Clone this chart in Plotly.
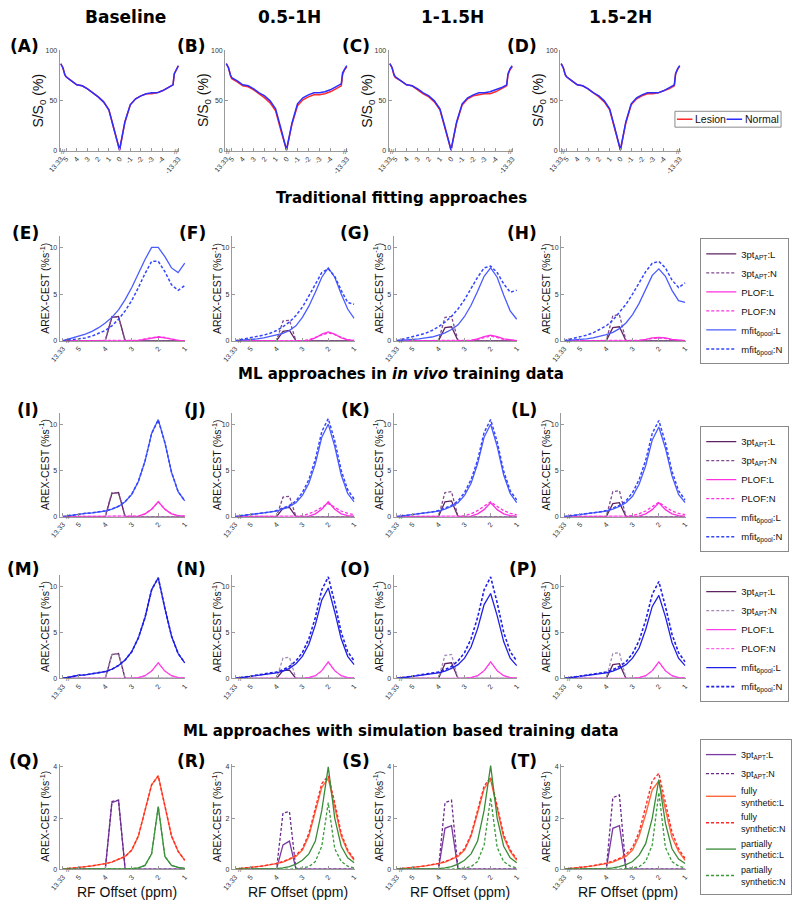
import plotly.graph_objects as go

W, H = 792, 905

# ---------------- text ----------------
COL_TITLES = ["Baseline", "0.5-1H", "1-1.5H", "1.5-2H"]
ROW_TITLES = ["Traditional fitting approaches",
              "ML approaches in <i>in vivo</i> training data",
              "ML approaches with simulation based training data"]
PANEL_LABELS = ["(A)", "(B)", "(C)", "(D)", "(E)", "(F)", "(G)", "(H)",
                "(I)", "(J)", "(K)", "(L)", "(M)", "(N)", "(O)", "(P)",
                "(Q)", "(R)", "(S)", "(T)"]
TOP_LEGEND_NAMES = ["Lesion", "Normal"]

# ---------------- Z-spectra (row 1) ----------------
Z_PPM = [13.33, 10, 7, 5, 4.5, 4, 3.5, 3, 2.5, 2, 1.5, 1, 0.5, 0,
         -0.5, -1, -1.5, -2, -2.5, -3, -3.5, -4, -4.5, -5, -7, -10, -13.33]
Z_TICKVALS = [13.33, 5, 4, 3, 2, 1, 0, -1, -2, -3, -4, -13.33]
Z_TICKTEXT = ["13.33", "5", "4", "3", "2", "1", "0", "-1", "-2", "-3", "-4", "-13.33"]
Y_TICKS_Z = [0, 50, 100]

ZA_LESION = [87, 83, 76, 74, 70, 66, 65, 62, 58, 54, 49, 41, 21, 1, 29, 46, 52, 55, 57, 57, 58, 60, 63, 66, 77, 81, 85]
ZA_NORMAL = [87, 83, 76, 74, 70, 66, 65, 62, 58, 54, 49, 41, 21, 1, 29, 46, 52, 55, 57, 58, 58, 60, 63, 66, 77, 81, 85]
ZB_LESION = [87, 83, 75, 72, 69, 65, 64, 61, 57, 53, 48, 40, 20, 1, 27, 45, 51, 54, 56, 56, 57, 59, 62, 65, 76, 81, 84]
ZB_NORMAL = [87, 83, 76, 73, 70, 66, 65, 62, 58, 55, 50, 42, 22, 1, 28, 47, 53, 56, 58, 58, 59, 61, 64, 67, 78, 82, 85]
ZC_LESION = [87, 83, 75, 73, 70, 66, 65, 61, 57, 54, 49, 41, 21, 1, 28, 46, 52, 55, 56, 57, 57, 59, 62, 65, 76, 81, 84]
ZC_NORMAL = [87, 83, 76, 74, 70, 66, 65, 62, 58, 55, 50, 42, 22, 1, 29, 47, 53, 56, 58, 58, 59, 61, 63, 66, 77, 82, 85]
ZD_LESION = [87, 83, 76, 74, 70, 66, 65, 62, 58, 54, 49, 41, 21, 1, 28, 46, 52, 55, 57, 57, 58, 60, 62, 65, 77, 81, 85]
ZD_NORMAL = [87, 83, 76, 74, 70, 66, 65, 62, 58, 55, 50, 42, 22, 1, 29, 47, 53, 56, 58, 58, 58, 60, 63, 66, 77, 82, 85]

# ---------------- AREX spectra (rows 2-5) ----------------
X_PPM = [13.33, 5.0, 4.75, 4.5, 4.25, 4.0, 3.75, 3.5, 3.25, 3.0, 2.75, 2.5, 2.25, 2.0, 1.75, 1.5, 1.25, 1.0]
X_TICKVALS = [13.33, 5, 4, 3, 2, 1]
X_TICKTEXT = ["13.33", "5", "4", "3", "2", "1"]
Y_TICKS_AREX = [0, 5, 10]
Y_TICKS_SIM = [0, 2, 4]

# Traditional fitting (E-H)
E_APT_L = [0, 0, 0, 0, 0, 0, 2.5, 2.6, 0, 0, 0, 0, 0, 0, 0, 0, 0, 0]
E_APT_N = [0, 0, 0, 0, 0, 0, 2.6, 2.5, 0, 0, 0, 0, 0, 0, 0, 0, 0, 0]
E_PLOF_L = [0, 0, 0, 0, 0, 0, 0, 0, 0, 0, 0.05, 0.15, 0.3, 0.4, 0.3, 0.15, 0.05, 0]
E_PLOF_N = [0, 0, 0, 0, 0, 0, 0, 0, 0, 0, 0.05, 0.2, 0.35, 0.45, 0.35, 0.2, 0.05, 0]
E_MFIT_L = [0, 0.5, 0.7, 1.0, 1.4, 1.9, 2.5, 3.3, 4.4, 5.7, 7.2, 8.7, 10.0, 10.0, 9.0, 7.8, 7.3, 8.3]
E_MFIT_N = [0, 0.2, 0.3, 0.5, 0.8, 1.1, 1.6, 2.3, 3.2, 4.3, 5.7, 7.2, 8.5, 8.5, 7.4, 6.0, 5.4, 5.9]

F_APT_L = [0, 0, 0, 0, 0, 0, 1.0, 1.1, 0, 0, 0, 0, 0, 0, 0, 0, 0, 0]
F_APT_N = [0, 0, 0, 0, 0, 0, 2.1, 2.2, 0, 0, 0, 0, 0, 0, 0, 0, 0, 0]
F_PLOF_L = [0, 0, 0, 0, 0, 0, 0, 0, 0, 0, 0.05, 0.3, 0.7, 0.95, 0.7, 0.3, 0.1, 0.02]
F_PLOF_N = [0, 0, 0, 0, 0, 0, 0, 0, 0, 0.02, 0.1, 0.35, 0.65, 0.85, 0.65, 0.35, 0.12, 0.05]
F_MFIT_L = [0, 0.1, 0.2, 0.3, 0.45, 0.6, 0.8, 1.1, 1.6, 2.5, 3.7, 5.2, 6.8, 7.8, 6.8, 5.0, 3.4, 2.4]
F_MFIT_N = [0, 0.3, 0.45, 0.6, 0.8, 1.1, 1.5, 2.0, 2.7, 3.6, 4.8, 6.1, 7.3, 7.7, 6.9, 5.4, 4.1, 3.9]

G_APT_L = [0, 0, 0, 0, 0, 0, 1.4, 1.5, 0, 0, 0, 0, 0, 0, 0, 0, 0, 0]
G_APT_N = [0, 0, 0, 0, 0, 0, 2.5, 2.6, 0, 0, 0, 0, 0, 0, 0, 0, 0, 0]
G_PLOF_L = [0, 0, 0, 0, 0, 0, 0, 0, 0, 0, 0.05, 0.2, 0.45, 0.6, 0.45, 0.2, 0.07, 0.02]
G_PLOF_N = [0, 0, 0, 0, 0, 0, 0, 0, 0, 0, 0.05, 0.15, 0.35, 0.5, 0.35, 0.15, 0.05, 0.02]
G_MFIT_L = [0, 0.1, 0.2, 0.3, 0.4, 0.6, 0.85, 1.2, 1.7, 2.6, 3.8, 5.3, 6.9, 7.8, 6.8, 4.9, 3.2, 2.3]
G_MFIT_N = [0, 0.4, 0.6, 0.8, 1.1, 1.5, 2.0, 2.6, 3.4, 4.4, 5.6, 6.8, 7.8, 8.0, 7.3, 6.1, 5.2, 5.4]

H_APT_L = [0, 0, 0, 0, 0, 0, 1.4, 1.5, 0, 0, 0, 0, 0, 0, 0, 0, 0, 0]
H_APT_N = [0, 0, 0, 0, 0, 0, 2.7, 2.8, 0, 0, 0, 0, 0, 0, 0, 0, 0, 0]
H_PLOF_L = [0, 0, 0, 0, 0, 0, 0, 0, 0, 0, 0.05, 0.15, 0.3, 0.35, 0.3, 0.15, 0.05, 0]
H_PLOF_N = [0, 0, 0, 0, 0, 0, 0, 0, 0, 0, 0.05, 0.1, 0.25, 0.3, 0.25, 0.1, 0.05, 0]
H_MFIT_L = [0, 0.1, 0.2, 0.3, 0.45, 0.65, 0.9, 1.3, 1.9, 2.8, 4.0, 5.5, 7.0, 7.7, 6.9, 5.4, 4.3, 4.1]
H_MFIT_N = [0, 0.4, 0.6, 0.85, 1.2, 1.6, 2.2, 3.0, 3.9, 5.0, 6.2, 7.4, 8.3, 8.5, 7.8, 6.5, 5.7, 6.2]

# ML with in vivo training data (I-L)
I_APT_L = [0, 0, 0, 0, 0, 0, 2.5, 2.6, 0, 0, 0, 0, 0, 0, 0, 0, 0, 0]
I_APT_N = [0, 0, 0, 0, 0, 0, 2.6, 2.6, 0, 0, 0, 0, 0, 0, 0, 0, 0, 0]
I_PLOF_L = [0, 0, 0, 0, 0, 0, 0, 0, 0, 0.02, 0.05, 0.3, 0.8, 1.6, 0.8, 0.3, 0.1, 0.05]
I_PLOF_N = [0, 0, 0, 0, 0, 0, 0, 0, 0, 0.02, 0.05, 0.3, 0.8, 1.6, 0.8, 0.3, 0.1, 0.05]
I_MFIT_L = [0, 0.3, 0.35, 0.4, 0.5, 0.6, 0.8, 1.1, 1.6, 2.4, 3.8, 6.0, 9.0, 10.5, 8.0, 4.8, 2.7, 1.7]
I_MFIT_N = [0, 0.3, 0.35, 0.4, 0.5, 0.62, 0.82, 1.12, 1.62, 2.42, 3.82, 6.0, 9.0, 10.45, 8.0, 4.8, 2.7, 1.7]

J_APT_L = [0, 0, 0, 0, 0, 0, 0.9, 1.0, 0, 0, 0, 0, 0, 0, 0, 0, 0, 0]
J_APT_N = [0, 0, 0, 0, 0, 0, 2.1, 2.2, 0, 0, 0, 0, 0, 0, 0, 0, 0, 0]
J_PLOF_L = [0, 0, 0, 0, 0, 0, 0, 0, 0, 0.02, 0.05, 0.3, 0.8, 1.6, 0.8, 0.3, 0.1, 0.05]
J_PLOF_N = [0, 0, 0, 0, 0, 0, 0, 0, 0.03, 0.1, 0.3, 0.6, 1.0, 1.4, 1.0, 0.6, 0.35, 0.2]
J_MFIT_L = [0, 0.2, 0.3, 0.4, 0.5, 0.6, 0.8, 1.1, 1.5, 2.3, 3.6, 5.7, 8.6, 10.0, 7.6, 4.5, 2.5, 1.6]
J_MFIT_N = [0, 0.2, 0.3, 0.4, 0.5, 0.65, 0.9, 1.2, 1.7, 2.6, 4.0, 6.2, 9.2, 10.6, 8.2, 5.0, 2.9, 1.9]

K_APT_L = [0, 0, 0, 0, 0, 0, 1.6, 1.7, 0, 0, 0, 0, 0, 0, 0, 0, 0, 0]
K_APT_N = [0, 0, 0, 0, 0, 0, 2.6, 2.7, 0, 0, 0, 0, 0, 0, 0, 0, 0, 0]
K_PLOF_L = [0, 0, 0, 0, 0, 0, 0, 0, 0, 0.02, 0.05, 0.3, 0.75, 1.5, 0.75, 0.3, 0.1, 0.05]
K_PLOF_N = [0, 0, 0, 0, 0, 0, 0, 0, 0.03, 0.1, 0.3, 0.65, 1.1, 1.6, 1.1, 0.65, 0.35, 0.2]
K_MFIT_L = [0, 0.2, 0.3, 0.4, 0.5, 0.6, 0.8, 1.1, 1.5, 2.3, 3.6, 5.7, 8.6, 10.0, 7.6, 4.5, 2.5, 1.5]
K_MFIT_N = [0, 0.2, 0.3, 0.4, 0.5, 0.65, 0.9, 1.2, 1.7, 2.6, 4.0, 6.1, 9.1, 10.5, 8.1, 4.9, 2.8, 1.8]

L_APT_L = [0, 0, 0, 0, 0, 0, 1.4, 1.5, 0, 0, 0, 0, 0, 0, 0, 0, 0, 0]
L_APT_N = [0, 0, 0, 0, 0, 0, 2.7, 2.8, 0, 0, 0, 0, 0, 0, 0, 0, 0, 0]
L_PLOF_L = [0, 0, 0, 0, 0, 0, 0, 0, 0, 0.02, 0.05, 0.3, 0.75, 1.5, 0.75, 0.3, 0.1, 0.05]
L_PLOF_N = [0, 0, 0, 0, 0, 0, 0, 0, 0.03, 0.1, 0.3, 0.6, 1.05, 1.55, 1.05, 0.6, 0.35, 0.2]
L_MFIT_L = [0, 0.2, 0.3, 0.4, 0.5, 0.6, 0.8, 1.1, 1.5, 2.2, 3.5, 5.5, 8.3, 9.7, 7.4, 4.4, 2.4, 1.5]
L_MFIT_N = [0, 0.2, 0.3, 0.4, 0.5, 0.65, 0.9, 1.2, 1.7, 2.6, 4.0, 6.1, 9.0, 10.4, 8.0, 4.9, 2.8, 1.8]

# ML with in vivo training data, second model (M-P)
M_APT_L = [0, 0, 0, 0, 0, 0, 2.6, 2.7, 0, 0, 0, 0, 0, 0, 0, 0, 0, 0]
M_APT_N = [0, 0, 0, 0, 0, 0, 2.6, 2.7, 0, 0, 0, 0, 0, 0, 0, 0, 0, 0]
M_PLOF_L = [0, 0, 0, 0, 0, 0, 0, 0, 0, 0.02, 0.1, 0.3, 0.8, 1.7, 0.8, 0.3, 0.1, 0.05]
M_PLOF_N = [0, 0, 0, 0, 0, 0, 0, 0, 0, 0.02, 0.1, 0.3, 0.8, 1.7, 0.8, 0.3, 0.1, 0.05]
M_MFIT_L = [0, 0.35, 0.4, 0.5, 0.6, 0.75, 1.0, 1.4, 2.0, 2.9, 4.4, 6.6, 9.6, 10.9, 7.6, 4.6, 2.7, 1.7]
M_MFIT_N = [0, 0.35, 0.4, 0.5, 0.6, 0.75, 1.0, 1.4, 2.0, 2.9, 4.4, 6.6, 9.6, 10.9, 7.6, 4.6, 2.7, 1.7]

N_APT_L = [0, 0, 0, 0, 0, 0, 0.85, 0.9, 0, 0, 0, 0, 0, 0, 0, 0, 0, 0]
N_APT_N = [0, 0, 0, 0, 0, 0, 2.2, 2.3, 0, 0, 0, 0, 0, 0, 0, 0, 0, 0]
N_PLOF_L = [0, 0, 0, 0, 0, 0, 0, 0, 0, 0.02, 0.1, 0.3, 0.85, 1.8, 0.85, 0.3, 0.1, 0.05]
N_PLOF_N = [0, 0, 0, 0, 0, 0, 0, 0, 0, 0.02, 0.1, 0.3, 0.8, 1.75, 0.8, 0.3, 0.1, 0.05]
N_MFIT_L = [0, 0.2, 0.3, 0.4, 0.5, 0.6, 0.8, 1.1, 1.6, 2.4, 3.7, 5.8, 8.5, 9.8, 7.2, 4.3, 2.4, 1.5]
N_MFIT_N = [0, 0.25, 0.35, 0.45, 0.55, 0.7, 0.95, 1.3, 1.9, 2.8, 4.3, 6.6, 9.6, 11.0, 8.2, 5.0, 2.9, 1.9]

O_APT_L = [0, 0, 0, 0, 0, 0, 1.6, 1.7, 0, 0, 0, 0, 0, 0, 0, 0, 0, 0]
O_APT_N = [0, 0, 0, 0, 0, 0, 2.5, 2.6, 0, 0, 0, 0, 0, 0, 0, 0, 0, 0]
O_PLOF_L = [0, 0, 0, 0, 0, 0, 0, 0, 0, 0.02, 0.1, 0.3, 0.85, 1.8, 0.85, 0.3, 0.1, 0.05]
O_PLOF_N = [0, 0, 0, 0, 0, 0, 0, 0, 0, 0.02, 0.1, 0.3, 0.8, 1.75, 0.8, 0.3, 0.1, 0.05]
O_MFIT_L = [0, 0.2, 0.3, 0.4, 0.5, 0.6, 0.8, 1.1, 1.5, 2.2, 3.4, 5.4, 8.0, 9.2, 6.8, 4.0, 2.2, 1.4]
O_MFIT_N = [0, 0.25, 0.35, 0.45, 0.55, 0.7, 0.95, 1.3, 1.9, 2.8, 4.3, 6.6, 9.6, 11.0, 8.2, 5.0, 2.9, 1.9]

P_APT_L = [0, 0, 0, 0, 0, 0, 1.5, 1.6, 0, 0, 0, 0, 0, 0, 0, 0, 0, 0]
P_APT_N = [0, 0, 0, 0, 0, 0, 2.7, 2.8, 0, 0, 0, 0, 0, 0, 0, 0, 0, 0]
P_PLOF_L = [0, 0, 0, 0, 0, 0, 0, 0, 0, 0.02, 0.1, 0.3, 0.85, 1.8, 0.85, 0.3, 0.1, 0.05]
P_PLOF_N = [0, 0, 0, 0, 0, 0, 0, 0, 0, 0.02, 0.1, 0.3, 0.8, 1.75, 0.8, 0.3, 0.1, 0.05]
P_MFIT_L = [0, 0.2, 0.3, 0.4, 0.5, 0.6, 0.8, 1.1, 1.5, 2.2, 3.3, 5.3, 7.8, 9.0, 6.7, 3.9, 2.2, 1.4]
P_MFIT_N = [0, 0.25, 0.35, 0.45, 0.55, 0.7, 0.95, 1.3, 1.8, 2.7, 4.1, 6.3, 9.1, 10.5, 7.8, 4.8, 2.8, 1.8]

# ML with simulation based training data (Q-T)
Q_APT_L = [0, 0, 0, 0, 0, 0, 2.6, 2.7, 0, 0, 0, 0, 0, 0, 0, 0, 0, 0]
Q_APT_N = [0, 0, 0, 0, 0, 0, 2.65, 2.7, 0, 0, 0, 0, 0, 0, 0, 0, 0, 0]
Q_FULL_L = [0, 0.05, 0.1, 0.13, 0.17, 0.22, 0.28, 0.38, 0.5, 0.75, 1.3, 2.3, 3.3, 3.65, 2.5, 1.3, 0.7, 0.35]
Q_FULL_N = [0, 0.05, 0.1, 0.13, 0.17, 0.22, 0.28, 0.38, 0.5, 0.75, 1.3, 2.3, 3.3, 3.65, 2.5, 1.3, 0.7, 0.35]
Q_PART_L = [0, 0, 0, 0, 0, 0, 0, 0, 0, 0.02, 0.05, 0.15, 0.6, 2.45, 0.5, 0.15, 0.07, 0.03]
Q_PART_N = [0, 0, 0, 0, 0, 0, 0, 0, 0, 0.02, 0.05, 0.15, 0.6, 2.45, 0.5, 0.15, 0.07, 0.03]

R_APT_L = [0, 0, 0, 0, 0, 0, 0.95, 1.1, 0, 0, 0, 0, 0, 0, 0, 0, 0, 0]
R_APT_N = [0, 0, 0, 0, 0, 0, 2.2, 2.25, 0, 0, 0, 0, 0, 0, 0, 0, 0, 0]
R_FULL_L = [0, 0.05, 0.1, 0.13, 0.17, 0.22, 0.28, 0.38, 0.5, 0.75, 1.3, 2.25, 3.2, 3.55, 2.45, 1.3, 0.7, 0.35]
R_FULL_N = [0, 0.05, 0.1, 0.13, 0.17, 0.23, 0.3, 0.4, 0.55, 0.8, 1.4, 2.4, 3.35, 3.65, 2.6, 1.4, 0.75, 0.4]
R_PART_L = [0, 0, 0, 0, 0, 0.02, 0.05, 0.1, 0.2, 0.35, 0.6, 1.1, 2.3, 4.0, 2.0, 0.9, 0.45, 0.25]
R_PART_N = [0, 0, 0, 0, 0, 0, 0, 0, 0.03, 0.05, 0.1, 0.3, 0.9, 2.6, 0.8, 0.3, 0.12, 0.05]

S_APT_L = [0, 0, 0, 0, 0, 0, 1.6, 1.7, 0, 0, 0, 0, 0, 0, 0, 0, 0, 0]
S_APT_N = [0, 0, 0, 0, 0, 0, 2.6, 2.7, 0, 0, 0, 0, 0, 0, 0, 0, 0, 0]
S_FULL_L = [0, 0.05, 0.1, 0.13, 0.17, 0.22, 0.28, 0.38, 0.5, 0.75, 1.3, 2.2, 3.15, 3.5, 2.4, 1.25, 0.7, 0.35]
S_FULL_N = [0, 0.05, 0.1, 0.13, 0.17, 0.23, 0.3, 0.4, 0.55, 0.8, 1.35, 2.3, 3.25, 3.6, 2.5, 1.35, 0.75, 0.4]
S_PART_L = [0, 0, 0, 0, 0, 0.02, 0.05, 0.1, 0.2, 0.35, 0.6, 1.1, 2.3, 4.05, 2.0, 0.9, 0.45, 0.25]
S_PART_N = [0, 0, 0, 0, 0, 0, 0, 0, 0.03, 0.05, 0.1, 0.3, 0.95, 2.8, 0.85, 0.3, 0.12, 0.05]

T_APT_L = [0, 0, 0, 0, 0, 0, 1.6, 1.7, 0, 0, 0, 0, 0, 0, 0, 0, 0, 0]
T_APT_N = [0, 0, 0, 0, 0, 0, 2.8, 2.9, 0, 0, 0, 0, 0, 0, 0, 0, 0, 0]
T_FULL_L = [0, 0.05, 0.1, 0.13, 0.17, 0.22, 0.28, 0.38, 0.5, 0.75, 1.3, 2.15, 3.1, 3.45, 2.35, 1.25, 0.7, 0.35]
T_FULL_N = [0, 0.05, 0.1, 0.14, 0.18, 0.24, 0.32, 0.42, 0.58, 0.85, 1.45, 2.45, 3.45, 3.75, 2.65, 1.45, 0.8, 0.42]
T_PART_L = [0, 0, 0, 0, 0, 0.02, 0.05, 0.1, 0.18, 0.3, 0.55, 1.0, 2.0, 3.5, 1.8, 0.8, 0.4, 0.22]
T_PART_N = [0, 0, 0, 0, 0, 0, 0, 0, 0.03, 0.05, 0.1, 0.3, 0.95, 3.0, 0.85, 0.3, 0.12, 0.05]

# ---------------- styles ----------------
DASH = "3px,2px"
TOP_COLORS = ["#ff2d2d", "#2d2dff"]
STY_TRAD = [("3pt<sub>APT</sub>:L", "#5e2360", None, 1.3),
            ("3pt<sub>APT</sub>:N", "#7e4a8e", DASH, 1.3),
            ("PLOF:L", "#ff30e0", None, 1.3),
            ("PLOF:N", "#ff30e0", DASH, 1.3),
            ("mfit<sub>6pool</sub>:L", "#4a5cff", None, 1.3),
            ("mfit<sub>6pool</sub>:N", "#3345ff", DASH, 1.5)]
STY_ML2 = [("3pt<sub>APT</sub>:L", "#5e2360", None, 1.3),
           ("3pt<sub>APT</sub>:N", "#a48cb6", DASH, 1.3),
           ("PLOF:L", "#ff40e6", None, 1.3),
           ("PLOF:N", "#ff40e6", DASH, 1.0),
           ("mfit<sub>6pool</sub>:L", "#1f1fe6", None, 1.3),
           ("mfit<sub>6pool</sub>:N", "#1f1fe6", DASH, 1.6)]
STY_SIM = [("3pt<sub>APT</sub>:L", "#7a3aa0", None, 1.3),
           ("3pt<sub>APT</sub>:N", "#6a2a8e", DASH, 1.3),
           ("fully<br>synthetic:L", "#ff6a3c", None, 1.4),
           ("fully<br>synthetic:N", "#ff2a2a", DASH, 1.4),
           ("partially<br>synthetic:L", "#3a8a3a", None, 1.3),
           ("partially<br>synthetic:N", "#3a9a3a", DASH, 1.3)]

ROW_DATA = [
    [[E_APT_L, E_APT_N, E_PLOF_L, E_PLOF_N, E_MFIT_L, E_MFIT_N],
     [F_APT_L, F_APT_N, F_PLOF_L, F_PLOF_N, F_MFIT_L, F_MFIT_N],
     [G_APT_L, G_APT_N, G_PLOF_L, G_PLOF_N, G_MFIT_L, G_MFIT_N],
     [H_APT_L, H_APT_N, H_PLOF_L, H_PLOF_N, H_MFIT_L, H_MFIT_N]],
    [[I_APT_L, I_APT_N, I_PLOF_L, I_PLOF_N, I_MFIT_L, I_MFIT_N],
     [J_APT_L, J_APT_N, J_PLOF_L, J_PLOF_N, J_MFIT_L, J_MFIT_N],
     [K_APT_L, K_APT_N, K_PLOF_L, K_PLOF_N, K_MFIT_L, K_MFIT_N],
     [L_APT_L, L_APT_N, L_PLOF_L, L_PLOF_N, L_MFIT_L, L_MFIT_N]],
    [[M_APT_L, M_APT_N, M_PLOF_L, M_PLOF_N, M_MFIT_L, M_MFIT_N],
     [N_APT_L, N_APT_N, N_PLOF_L, N_PLOF_N, N_MFIT_L, N_MFIT_N],
     [O_APT_L, O_APT_N, O_PLOF_L, O_PLOF_N, O_MFIT_L, O_MFIT_N],
     [P_APT_L, P_APT_N, P_PLOF_L, P_PLOF_N, P_MFIT_L, P_MFIT_N]],
    [[Q_APT_L, Q_APT_N, Q_FULL_L, Q_FULL_N, Q_PART_L, Q_PART_N],
     [R_APT_L, R_APT_N, R_FULL_L, R_FULL_N, R_PART_L, R_PART_N],
     [S_APT_L, S_APT_N, S_FULL_L, S_FULL_N, S_PART_L, S_PART_N],
     [T_APT_L, T_APT_N, T_FULL_L, T_FULL_N, T_PART_L, T_PART_N]],
]
ROW_STYLES = [STY_TRAD, STY_TRAD, STY_ML2, STY_SIM]
Z_DATA = [(ZA_LESION, ZA_NORMAL), (ZB_LESION, ZB_NORMAL),
          (ZC_LESION, ZC_NORMAL), (ZD_LESION, ZD_NORMAL)]

for row in ROW_DATA:
    for panel in row:
        for s in panel:
            assert len(s) == len(X_PPM)
for a, b in Z_DATA:
    assert len(a) == len(Z_PPM) and len(b) == len(Z_PPM)

# ---------------- layout geometry (pixels) ----------------
TOP_COLS = [(49, 172), (219, 345), (387, 515), (563, 687)]
LOW_COLS = [(49, 178), (226, 352), (392, 519), (564, 692)]
ROWS_Y = [(47, 149), (235, 340), (413, 517), (576, 680), (766, 872)]
LABEL_X = [30, 201, 370, 541]
LABEL_Y = [43, 232, 410, 570, 763]
COL_TITLE_X = [117, 285, 452, 625]
ROW_TITLE_Y = [196, 373, 733]
LEGEND_TOP = [237, 426, 577, 741]
LEGEND_FONTS = [9.5, 9.5, 9.5, 9]


def zdisp(p):
    if abs(p) <= 5:
        return p
    s = 1 if p > 0 else -1
    return s * (5 + (abs(p) - 5) * 0.5 / 8.33)


def adisp(p):
    return p if p <= 5 else 5 + (p - 5) * 0.6 / 8.33


def xd(a, b):
    return [a / W, b / W]


def yd(top, bot):
    return [1 - bot / H, 1 - top / H]


fig = go.Figure()
TICKFONT = dict(family="Liberation Sans", size=7, color="#333333")
AXIS_COMMON = dict(showline=True, linecolor="#9a9a9a", linewidth=1.2, showgrid=False,
                   zeroline=False, ticks="inside", ticklen=3, tickcolor="#9a9a9a",
                   tickfont=TICKFONT, mirror=False)

annotations = []
shapes = []

for r in range(5):
    for c in range(4):
        n = r * 4 + c + 1
        xname = "xaxis" if n == 1 else f"xaxis{n}"
        yname = "yaxis" if n == 1 else f"yaxis{n}"
        xref = "x" if n == 1 else f"x{n}"
        yref = "y" if n == 1 else f"y{n}"
        top, bot = ROWS_Y[r]
        if r == 0:
            x0, x1 = TOP_COLS[c]
            fig.layout[xname] = dict(AXIS_COMMON, domain=xd(x0, x1), anchor=yref,
                                     range=[5.6, -5.6],
                                     tickvals=[zdisp(v) for v in Z_TICKVALS],
                                     ticktext=Z_TICKTEXT, tickangle=-50)
            fig.layout[yname] = dict(AXIS_COMMON, domain=yd(top, bot), anchor=xref,
                                     range=[0, 101], tickvals=Y_TICKS_Z)
            zx = [zdisp(p) for p in Z_PPM]
            for k, series in enumerate(Z_DATA[c]):
                fig.add_trace(go.Scatter(x=zx, y=series, mode="lines", name=TOP_LEGEND_NAMES[k],
                                         line=dict(color=TOP_COLORS[k], width=1.5),
                                         xaxis=xref, yaxis=yref, showlegend=False))
            annotations.append(dict(text="S/S<sub>0</sub> (%)", xref="paper", yref="paper",
                                    x=(x0 - 21) / W, y=1 - (top + bot) / 2 / H,
                                    xanchor="center", yanchor="middle",
                                    textangle=-90, showarrow=False,
                                    font=dict(family="Liberation Sans", size=14, color="#111")))
            for sx in (5.3, -5.3):
                annotations.append(dict(text="//", xref=xref, yref=yref, x=sx, y=0,
                                        showarrow=False, xanchor="center", yanchor="middle",
                                        font=dict(family="Liberation Sans", size=7, color="#555")))
        else:
            x0, x1 = LOW_COLS[c]
            sim = (r == 4)
            fig.layout[xname] = dict(AXIS_COMMON, domain=xd(x0, x1), anchor=yref,
                                     range=[5.72, 0.98],
                                     tickvals=[adisp(v) for v in X_TICKVALS],
                                     ticktext=X_TICKTEXT, tickangle=-50)
            ymax = (bot - top) / ((bot - top - (11 if not sim else 3)) / (10 if not sim else 4))
            fig.layout[yname] = dict(AXIS_COMMON, domain=yd(top, bot), anchor=xref,
                                     range=[0, ymax],
                                     tickvals=Y_TICKS_SIM if sim else Y_TICKS_AREX)
            styles = ROW_STYLES[r - 1]
            ax_x = [adisp(p) for p in X_PPM]
            for k, series in enumerate(ROW_DATA[r - 1][c]):
                name, color, dash, width = styles[k]
                fig.add_trace(go.Scatter(x=ax_x, y=series, mode="lines", name=name,
                                         line=dict(color=color, width=width, dash=dash),
                                         xaxis=xref, yaxis=yref,
                                         showlegend=(c == 0), legend=f"legend{r + 1}"))
            annotations.append(dict(text="AREX-CEST (%s<sup>-1</sup>)", xref="paper", yref="paper",
                                    x=(x0 - 16) / W, y=1 - (top + bot) / 2 / H,
                                    xanchor="center", yanchor="middle",
                                    textangle=-90, showarrow=False,
                                    font=dict(family="Liberation Sans", size=10.5, color="#111")))
            annotations.append(dict(text="//", xref=xref, yref=yref, x=5.42, y=0,
                                    showarrow=False, xanchor="center", yanchor="middle",
                                    font=dict(family="Liberation Sans", size=7, color="#555")))
            if sim:
                annotations.append(dict(text="RF Offset (ppm)", xref="paper", yref="paper",
                                        x=((x0 + x1) / 2 + 5) / W, y=1 - 895 / H,
                                        showarrow=False, xanchor="center", yanchor="middle",
                                        font=dict(family="Liberation Sans", size=14, color="#111")))
        annotations.append(dict(text=f"<b>{PANEL_LABELS[n - 1]}</b>", xref="paper", yref="paper",
                                x=LABEL_X[c] / W, y=1 - LABEL_Y[r] / H, xanchor="right",
                                yanchor="middle", showarrow=False,
                                font=dict(family="DejaVu Sans", size=17, color="#000")))

for c, t in enumerate(COL_TITLES):
    annotations.append(dict(text=f"<b>{t}</b>", xref="paper", yref="paper",
                            x=COL_TITLE_X[c] / W, y=1 - 14 / H, showarrow=False,
                            xanchor="center", yanchor="middle",
                            font=dict(family="DejaVu Sans", size=17, color="#000")))
for i, t in enumerate(ROW_TITLES):
    annotations.append(dict(text=f"<b>{t}</b>", xref="paper", yref="paper",
                            x=400 / W, y=1 - ROW_TITLE_Y[i] / H, showarrow=False,
                            xanchor="center", yanchor="middle",
                            font=dict(family="DejaVu Sans", size=15, color="#000")))

# compact horizontal legend of the top row (box, key lines, labels)
shapes.append(dict(type="rect", xref="paper", yref="paper",
                   x0=681 / W, x1=790 / W, y0=1 - 125 / H, y1=1 - 109 / H,
                   line=dict(color="#8a8a8a", width=1), fillcolor="white", layer="above"))
for k, (lx0, lx1, tx) in enumerate([(683, 699, 700), (734, 750, 751)]):
    shapes.append(dict(type="line", xref="paper", yref="paper",
                       x0=lx0 / W, x1=lx1 / W, y0=1 - 117 / H, y1=1 - 117 / H,
                       line=dict(color=TOP_COLORS[k], width=1.5), layer="above"))
    annotations.append(dict(text=TOP_LEGEND_NAMES[k], xref="paper", yref="paper",
                            x=tx / W, y=1 - 117 / H, xanchor="left", yanchor="middle",
                            showarrow=False,
                            font=dict(family="Liberation Sans", size=10.5, color="#111")))

legend_common = dict(bgcolor="white", bordercolor="#8a8a8a", borderwidth=1,
                     itemwidth=30, tracegroupgap=0, xanchor="left", yanchor="top")
layout_legends = {}
for i, topy in enumerate(LEGEND_TOP):
    layout_legends[f"legend{i + 2}"] = dict(
        legend_common, x=707 / W, y=1 - topy / H,
        font=dict(family="Liberation Sans", size=LEGEND_FONTS[i], color="#111"))

fig.update_layout(width=W, height=H, margin=dict(l=0, r=0, t=0, b=0),
                  paper_bgcolor="white", plot_bgcolor="white", showlegend=True,
                  annotations=annotations, shapes=shapes, **layout_legends)

fig.write_html("out.html")
